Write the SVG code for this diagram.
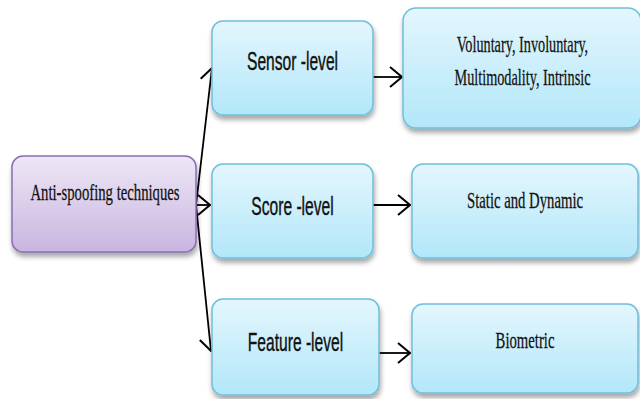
<svg xmlns="http://www.w3.org/2000/svg" width="640" height="399" viewBox="0 0 640 399">
  <defs>
    <linearGradient id="gBlue" x1="0" y1="0" x2="0" y2="1">
      <stop offset="0" stop-color="#e4f6fd"/>
      <stop offset="1" stop-color="#b2e7f9"/>
    </linearGradient>
    <linearGradient id="gPurple" x1="0" y1="0" x2="0" y2="1">
      <stop offset="0" stop-color="#eee7f5"/>
      <stop offset="1" stop-color="#c8b5e0"/>
    </linearGradient>
    <filter id="shadow" x="-10%" y="-10%" width="125%" height="135%">
      <feDropShadow dx="1" dy="4" stdDeviation="2.5" flood-color="#000" flood-opacity="0.35"/>
    </filter>
    <marker id="chev" viewBox="0 0 14 22" refX="13" refY="11" markerWidth="14" markerHeight="22" markerUnits="userSpaceOnUse" orient="auto">
      <path d="M1,1 L13,11 L1,21" fill="none" stroke="#000" stroke-width="2"/>
    </marker>
  </defs>
  <style>
    .blue { fill: url(#gBlue); stroke: #6fbfdc; stroke-width: 1.5; filter: url(#shadow); }
    .purple { fill: url(#gPurple); stroke: #8a6db5; stroke-width: 1.5; filter: url(#shadow); }
    .sans { font-family: "Liberation Sans", Arial, sans-serif; font-size: 26px; fill: #111; stroke: #111; stroke-width: 0.4; text-anchor: middle; }
    .serif { font-family: "Liberation Serif", "Times New Roman", serif; font-size: 23px; fill: #111; stroke: #111; stroke-width: 0.25; text-anchor: middle; }
    .conn { fill: none; stroke: #000; stroke-width: 1.8; marker-end: url(#chev); }
  </style>

  <g id="connectors">
    <line class="conn" x1="196" y1="205" x2="212" y2="68"/>
    <line class="conn" x1="196" y1="205" x2="210" y2="205"/>
    <line class="conn" x1="196" y1="205" x2="211" y2="351"/>
    <line class="conn" x1="373" y1="77" x2="402" y2="77"/>
    <line class="conn" x1="373" y1="205" x2="410" y2="205"/>
    <line class="conn" x1="379" y1="353" x2="410" y2="353"/>
  </g>

  <!-- narrow lettering: glyphs are compressed horizontally with a scale transform -->
  <g id="anti-spoofing">
    <rect class="purple" x="12" y="156" width="184" height="96" rx="11"/>
    <text class="serif" transform="translate(105 200) scale(0.64 1)">Anti-spoofing techniques</text>
  </g>

  <g id="sensor-level">
    <rect class="blue" x="212" y="21" width="161" height="94" rx="11"/>
    <text class="sans" transform="translate(292.5 70) scale(0.6 1)">Sensor -level</text>
  </g>

  <g id="score-level">
    <rect class="blue" x="212" y="164" width="161" height="94" rx="11"/>
    <text class="sans" transform="translate(292.5 215) scale(0.6 1)">Score -level</text>
  </g>

  <g id="feature-level">
    <rect class="blue" x="212" y="299" width="167" height="96" rx="11"/>
    <text class="sans" transform="translate(295.5 351) scale(0.6 1)">Feature -level</text>
  </g>

  <g id="sensor-methods">
    <rect class="blue" x="403" y="8" width="238" height="120" rx="13"/>
    <text class="serif" transform="translate(522.5 52) scale(0.62 1)">Voluntary, Involuntary,</text>
    <text class="serif" transform="translate(522.5 85) scale(0.62 1)">Multimodality, Intrinsic</text>
  </g>

  <g id="score-methods">
    <rect class="blue" x="412" y="164" width="226" height="94" rx="11"/>
    <text class="serif" transform="translate(525 208) scale(0.64 1)">Static and Dynamic</text>
  </g>

  <g id="feature-methods">
    <rect class="blue" x="412" y="304" width="226" height="89" rx="11"/>
    <text class="serif" transform="translate(525 348) scale(0.64 1)">Biometric</text>
  </g>
</svg>
